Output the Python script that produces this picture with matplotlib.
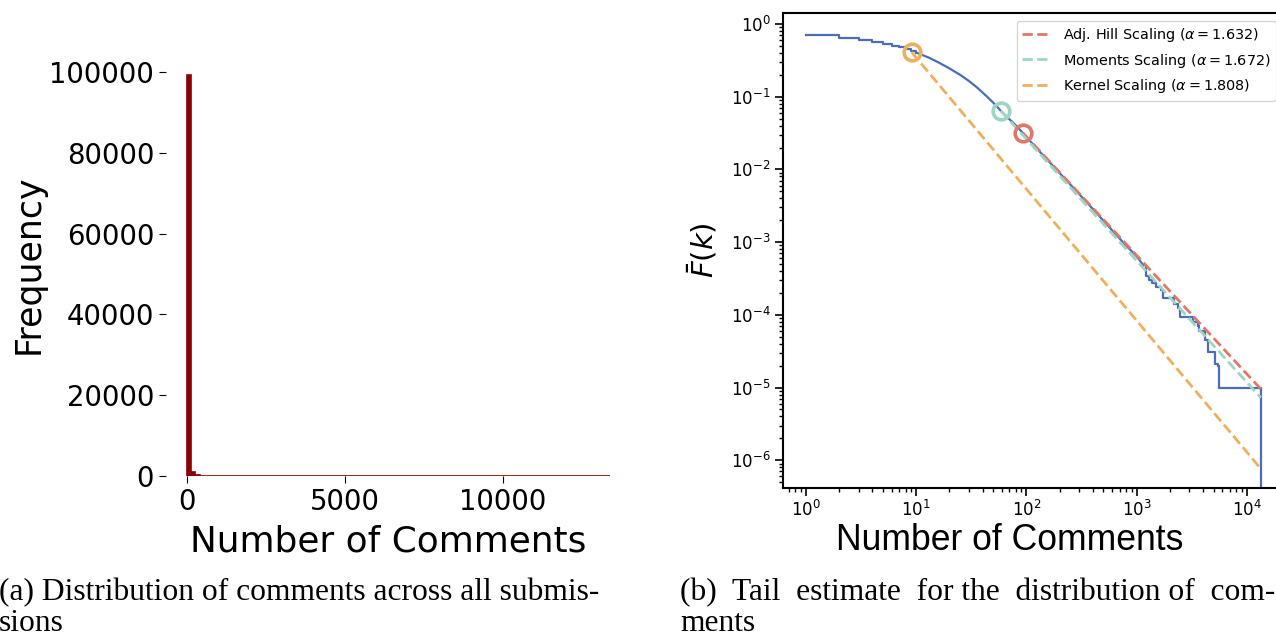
import matplotlib
matplotlib.use('Agg')
import matplotlib.pyplot as plt
import numpy as np

# ---- data -------------------------------------------------------------
# comments per submission, histogram with 100 bins of width 134
bin_width = 134
comment_counts = [
    99350, 1000, 270, 105, 55, 32, 20, 14, 10, 8, 6, 5, 4, 3, 3, 2, 2, 2, 2, 1,
    1, 1, 1, 1, 1, 1, 0, 1, 0, 1, 1, 0, 0, 1, 0, 0, 1, 0, 0, 0,
    0, 1, 0, 0, 0, 0, 0, 0, 0, 0, 0, 0, 0, 0, 0, 0, 0, 0, 0, 0,
    0, 0, 0, 0, 0, 0, 0, 0, 0, 0, 0, 0, 0, 0, 0, 0, 0, 0, 0, 0,
    0, 0, 0, 0, 0, 0, 0, 0, 0, 0, 0, 0, 0, 0, 0, 0, 0, 0, 0, 1,
]

# empirical survival function F(k) = P(X >= k)
head_k = [1, 2, 3, 4, 5, 6, 7, 8, 9, 10]
head_f = [0.71, 0.645, 0.60, 0.565, 0.535, 0.505, 0.478, 0.452, 0.428, 0.405]
body_k = [10, 13, 16, 20, 25, 30, 36, 44, 52, 58.5, 70, 82, 94, 120, 150,
          200, 260, 340, 450, 600, 800, 1000, 1150]
body_f = [0.405, 0.345, 0.295, 0.245, 0.2, 0.165, 0.132, 0.1, 0.078, 0.064,
          0.049, 0.039, 0.031, 0.0205, 0.0143, 0.0089, 0.0058, 0.00375,
          0.00235, 0.00145, 0.0009, 0.00064, 0.00048]
tail_k = [1150, 1214, 1290, 1366, 1500, 1660, 1740, 2190, 2380, 2460, 3240,
          3600, 3680, 4150, 4490, 5130, 5500, 5560, 13400]
tail_f = [4.8e-4, 3.4e-4, 3.0e-4, 2.7e-4, 2.4e-4, 2.2e-4, 1.73e-4, 1.4e-4,
          1.23e-4, 9.3e-5, 8.0e-5, 7.0e-5, 5.9e-5, 4.5e-5, 3.1e-5, 2.1e-5,
          2.0e-5, 1.0e-5, 0]

# tail estimators: threshold k, F at threshold, tail index
fit_names = ['Adj. Hill Scaling', 'Moments Scaling', 'Kernel Scaling']
fit_kmin = [93.7, 58.5, 9.1]
fit_fmin = [0.0314, 0.064, 0.408]
fit_alpha = [1.632, 1.672, 1.808]
fit_colors = ['#e0786a', '#9fd5c5', '#ecb05f']
k_max = 13400

# ---- figure -----------------------------------------------------------
W, H = 1276, 636
fig = plt.figure(figsize=(W / 100, H / 100), dpi=100)


def px_axes(left, top, right, bottom):
    return fig.add_axes([left / W, 1 - bottom / H, (right - left) / W, (bottom - top) / H])


# (a) histogram
ax1 = px_axes(166, 52, 628, 476)
edges = np.arange(len(comment_counts) + 1) * bin_width
ax1.hist(edges[:-1], bins=edges, weights=comment_counts, color='darkred',
         edgecolor='darkred', linewidth=1.2)
ax1.set_xlim(-665, 13965)
ax1.set_ylim(0, 105000)
ax1.set_xticks([0, 5000, 10000])
ax1.set_yticks([0, 20000, 40000, 60000, 80000, 100000])
for s in ax1.spines.values():
    s.set_visible(False)
ax1.tick_params(labelsize=19.8, length=5)
ax1.set_xlabel('Number of Comments', fontsize=25.8)
ax1.xaxis.set_label_coords(0.4805, -0.115)
ax1.set_ylabel('Frequency', fontsize=25, labelpad=3)

# (b) tail estimate
ax2 = px_axes(783, 13.3, 1283.5, 487.7)
ax2.set_xscale('log')
ax2.set_yscale('log')
blue = '#4a6db3'
ax2.plot(head_k, head_f, color=blue, lw=1.6, drawstyle='steps-post')
ax2.plot(body_k, body_f, color=blue, lw=1.6)
ax2.plot(tail_k, tail_f, color=blue, lw=1.6, drawstyle='steps-post')

for name, k0, f0, a, c in zip(fit_names, fit_kmin, fit_fmin, fit_alpha, fit_colors):
    kk = np.array([k0, k_max])
    ax2.plot(kk, f0 * (kk / k0) ** (-a), '--', color=c, lw=2,
             label='%s ($\\alpha = %.3f$)' % (name, a))
for k0, f0, c in zip(fit_kmin, fit_fmin, fit_colors):
    ax2.plot([k0], [f0], 'o', ms=12, mfc='none', mec=c, mew=2.6, zorder=5)

ax2.set_xlim(10 ** -0.209, 10 ** 4.333)
ax2.set_ylim(10 ** -6.378, 10 ** 0.147)
for s in ax2.spines.values():
    s.set_linewidth(1.5)
ax2.tick_params(which='major', labelsize=12, length=5.5, width=1.2)
ax2.tick_params(which='minor', length=3, width=1)
ax2.set_xlabel('Number of Comments', fontsize=25.6, family='Liberation Sans')
ax2.xaxis.set_label_coords(0.4535, -0.075)
ax2.set_ylabel(r'$\bar{F}(k)$', fontsize=21, labelpad=8)
ax2.legend(loc='upper right', fontsize=10.4)

fig.canvas.draw()
renderer = fig.canvas.get_renderer()


# captions below the panels; the first line is padded with spaces
# so that it runs the full column width
def caption(first, second, x0, width):
    t = fig.text(x0 / W, 1 - 631 / H, first, fontsize=22.7,
                 family='Liberation Serif', va='baseline', linespacing=1.1)
    words = first.split(' ')
    gaps = [' '] * (len(words) - 1)
    order = list(range(len(gaps)))[::2] + list(range(len(gaps)))[1::2]
    i = 0
    while t.get_window_extent(renderer).width < width - 5:
        gaps[order[i % len(gaps)]] += ' '
        line = words[0] + ''.join(g + w for g, w in zip(gaps, words[1:]))
        t.set_text(line)
        i += 1
    t.set_text(t.get_text() + '\n' + second)


caption('(a) Distribution of comments across all submis-', 'sions', -1, 600)
caption('(b) Tail estimate for the distribution of com-', 'ments', 680, 594)

fig.savefig('out.png', dpi=100)
